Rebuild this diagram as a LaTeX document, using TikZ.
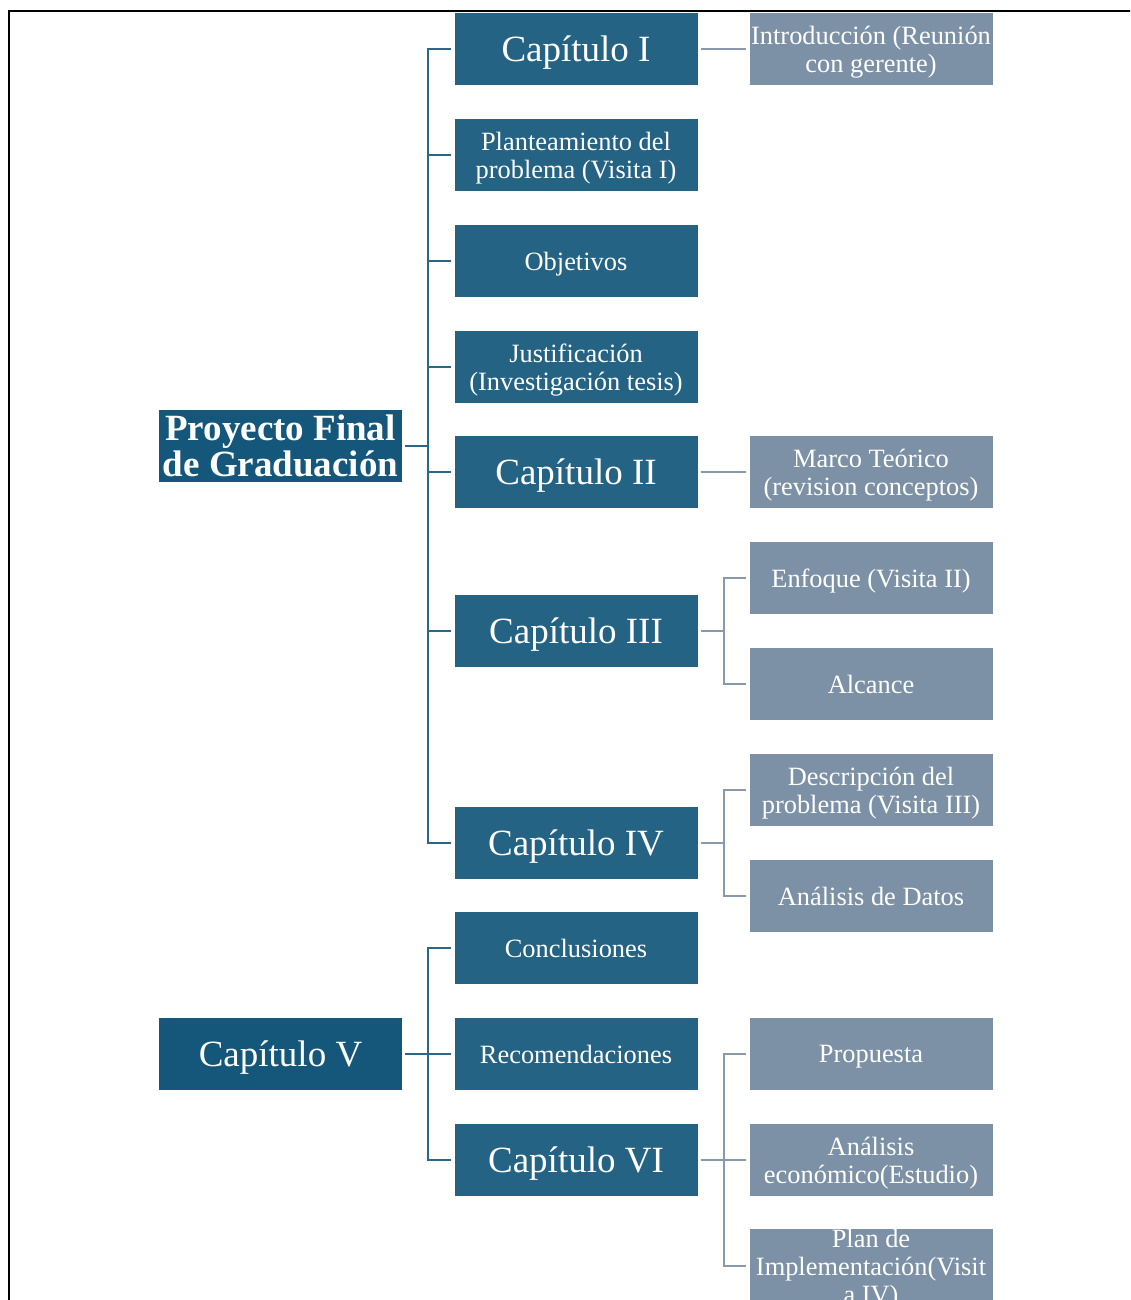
\documentclass[tikz,border=0pt]{standalone}
\usepackage{fontspec}
\setmainfont{Liberation Serif}
\definecolor{rootblue}{HTML}{14577A}
\definecolor{chapblue}{HTML}{246384}
\definecolor{subgray}{HTML}{7C91A5}
\definecolor{linedark}{HTML}{2C6788}
\definecolor{linegray}{HTML}{8799AB}
\begin{document}
\begin{tikzpicture}[x=1pt,y=-1pt,
  basebox/.style={minimum width=243pt, minimum height=72pt, inner sep=0pt,
    align=center, text=white},
  rootbox/.style={basebox, fill=rootblue},
  chapbox/.style={basebox, fill=chapblue, text depth=0pt},
  subbox/.style={basebox, fill=subgray, text depth=0pt},
  bigtxt/.style={font=\fontsize{37}{37}\selectfont},
  smalltxt/.style={font=\fontsize{26.4}{28}\selectfont},
  roottxt/.style={font=\fontsize{37}{36.5}\selectfont\bfseries},
  dline/.style={draw=linedark, line width=2pt, shorten <=3pt, shorten >=3pt},
  gline/.style={draw=linegray, line width=2pt, shorten <=3pt, shorten >=3pt}]
\useasboundingbox (0,0) rectangle (1130,1300);
\clip (0,0) rectangle (1130,1300);

% page frame
\draw[line width=2pt] (9,1302) -- (9,11.5) -- (1132,11.5);

% root nodes
\node[rootbox, roottxt] (root) at (280.5,446) {Proyecto Final\\de Graduación};
\node[rootbox, bigtxt, text depth=0pt] (cv) at (280.5,1054) {Capítulo V};

% chapter column
\node[chapbox, bigtxt]   (c1)  at (576,49)   {Capítulo I};
\node[chapbox, smalltxt] (c2)  at (576,155)  {Planteamiento del\\problema (Visita I)};
\node[chapbox, smalltxt] (c3)  at (576,261)  {Objetivos};
\node[chapbox, smalltxt] (c4)  at (576,367)  {Justificación\\(Investigación tesis)};
\node[chapbox, bigtxt]   (c5)  at (576,472)  {Capítulo II};
\node[chapbox, bigtxt]   (c6)  at (576,631)  {Capítulo III};
\node[chapbox, bigtxt]   (c7)  at (576,843)  {Capítulo IV};
\node[chapbox, smalltxt] (c8)  at (576,948)  {Conclusiones};
\node[chapbox, smalltxt] (c9)  at (576,1054) {Recomendaciones};
\node[chapbox, bigtxt]   (c10) at (576,1160) {Capítulo VI};

% detail column
\node[subbox, smalltxt] (s1) at (871,49)   {Introducción (Reunión\\con gerente)};
\node[subbox, smalltxt] (s2) at (871,472)  {Marco Teórico\\(revision conceptos)};
\node[subbox, smalltxt] (s3) at (871,578)  {Enfoque (Visita II)};
\node[subbox, smalltxt] (s4) at (871,684)  {Alcance};
\node[subbox, smalltxt] (s5) at (871,790)  {Descripción del\\problema (Visita III)};
\node[subbox, smalltxt] (s6) at (871,896)  {Análisis de Datos};
\node[subbox, smalltxt] (s7) at (871,1054) {Propuesta};
\node[subbox, smalltxt] (s8) at (871,1160) {Análisis\\económico(Estudio)};
\node[subbox, smalltxt] (s9) at (871,1266) {Plan de\\Implementación(Visit\\a IV)};

% root to chapters
\foreach \c in {c1,c2,c3,c4,c5,c6,c7}
  \draw[dline] (root.east) -- ++(26,0) |- (\c.west);
\foreach \c in {c8,c9,c10}
  \draw[dline] (cv.east) -- ++(26,0) |- (\c.west);

% chapters to details
\draw[gline] (c1.east) -- ++(26,0) |- (s1.west);
\draw[gline] (c5.east) -- ++(26,0) |- (s2.west);
\foreach \s in {s3,s4}
  \draw[gline] (c6.east) -- ++(26,0) |- (\s.west);
\foreach \s in {s5,s6}
  \draw[gline] (c7.east) -- ++(26,0) |- (\s.west);
\foreach \s in {s7,s8,s9}
  \draw[gline] (c10.east) -- ++(26,0) |- (\s.west);
\end{tikzpicture}
\end{document}
